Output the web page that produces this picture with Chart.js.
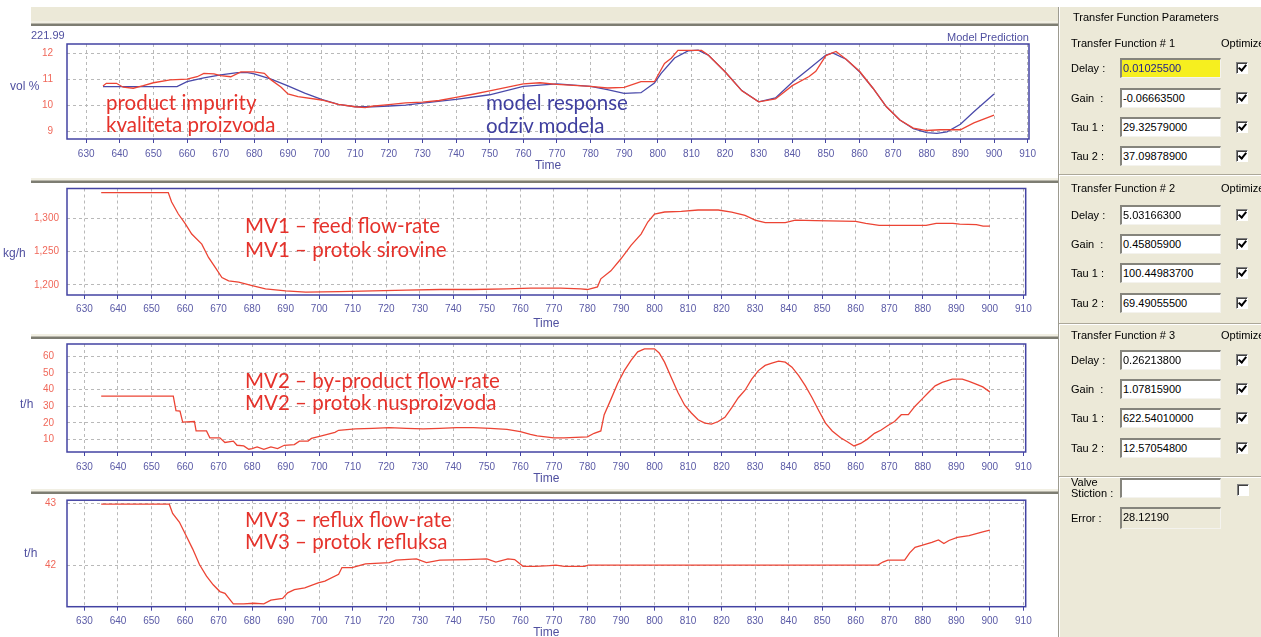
<!DOCTYPE html>
<html>
<head>
<meta charset="utf-8">
<script src="https://cdn.jsdelivr.net/npm/chart.js@4.4.1/dist/chart.umd.min.js"></script>
<style>
html, body { margin: 0; padding: 0; background: #fff; }
body { width: 1261px; height: 637px; overflow: hidden; position: relative; font-family: "Liberation Sans", Arial, sans-serif; }
canvas { position: absolute; left: 0; }
.strip { position: absolute; left: 31px; width: 1027px; background: #ece9d8; }
.sep { position: absolute; left: 31px; width: 1027px; height: 2px; background: #7d7d72; border-top: 1px solid #b8b6aa; box-shadow: 0 -2px 0 #f1efe3; }
.lbl { position: absolute; font-size: 12px; line-height: 14px; color: #5050a0; white-space: nowrap; }
.small { font-size: 11px; }
.note { position: absolute; font-family: Lato, "Open Sans", sans-serif; font-size: 20.5px; line-height: 22px; white-space: nowrap; }
.red { color: #e5322b; }
.blue { color: #3f3f9f; }
#panel { position: absolute; left: 1058px; top: 7px; width: 203px; height: 630px; background: #ece9d8; border-left: 1px solid #9d9b90; box-shadow: inset 1px 0 0 #ffffff; overflow: hidden; }
.pt { position: absolute; font-size: 11px; line-height: 14px; color: #000; white-space: pre; }
.inp { position: absolute; box-sizing: border-box; width: 101px; height: 20px; background: #fff; border-top: 2px solid #85847c; border-left: 2px solid #85847c; border-bottom: 1px solid #f4f3ee; border-right: 1px solid #f4f3ee; font-size: 11px; line-height: 16px; padding-left: 1px; color: #000; white-space: nowrap; }
.chk { position: absolute; box-sizing: border-box; width: 12px; height: 12px; background: #fff; border-top: 1px solid #808080; border-left: 1px solid #808080; border-bottom: 1px solid #fff; border-right: 1px solid #fff; box-shadow: inset 1px 1px 0 #404040; }
.chk.on::after { content: ""; position: absolute; left: 3px; top: 0px; width: 3px; height: 6px; border-right: 2px solid #000; border-bottom: 2px solid #000; transform: rotate(40deg); }
.psep { position: absolute; left: 0; width: 203px; height: 1px; background: #aca899; border-bottom: 1px solid #fff; }
</style>
</head>
<body>
<div class="strip" style="top:7px;height:16px;"></div>
<div class="sep" style="top:23px;"></div>
<div class="sep" style="top:180px;"></div>
<div class="sep" style="top:336px;"></div>
<div class="sep" style="top:491px;"></div>

<canvas id="c1" width="1058" height="140" style="top:38px"></canvas>
<canvas id="c2" width="1058" height="153" style="top:182px"></canvas>
<canvas id="c3" width="1058" height="153" style="top:338px"></canvas>
<canvas id="c4" width="1058" height="152" style="top:494px"></canvas>

<div class="lbl small" style="left:31px;top:28px;">221.99</div>
<div class="lbl small" style="left:947px;top:30px;">Model Prediction</div>
<div class="lbl" style="left:10px;top:79px;">vol %</div>
<div class="lbl" style="left:3px;top:246px;">kg/h</div>
<div class="lbl" style="left:20px;top:397px;">t/h</div>
<div class="lbl" style="left:24px;top:546px;">t/h</div>

<div class="note red" style="left:106px;top:91px;">product impurity</div>
<div class="note red" style="left:106px;top:113px;">kvaliteta proizvoda</div>
<div class="note blue" style="left:486px;top:91px;">model response</div>
<div class="note blue" style="left:486px;top:114px;">odziv modela</div>
<div class="note red" style="left:245px;top:214px;">MV1 – feed flow-rate</div>
<div class="note red" style="left:245px;top:238px;">MV1 – protok sirovine</div>
<div class="note red" style="left:245px;top:369px;">MV2 – by-product flow-rate</div>
<div class="note red" style="left:245px;top:391px;">MV2 – protok nusproizvoda</div>
<div class="note red" style="left:245px;top:508px;">MV3 – reflux flow-rate</div>
<div class="note red" style="left:245px;top:530px;">MV3 – protok refluksa</div>

<div id="panel"></div>

<script>
const timeTicks = [630, 640, 650, 660, 670, 680, 690, 700, 710, 720, 730, 740, 750, 760, 770, 780, 790, 800, 810, 820, 830, 840, 850, 860, 870, 880, 890, 900, 910];

// product impurity (measured) and model response, vol %
const impurityTime = [635, 636, 639, 641, 644, 647, 650, 655, 660, 663, 665, 668, 670, 673, 676, 680, 683, 685, 688, 690, 693, 700, 705, 710, 713, 715, 720, 725, 730, 735, 740, 745, 750, 755, 760, 765, 770, 775, 780, 785, 790, 795, 799, 802, 804, 806, 813, 815, 820, 825, 830, 835, 840, 845, 847, 850, 853, 856, 860, 864, 868, 872, 876, 880, 884, 888, 890, 894, 900];
const impurityMeasured = [10.74, 10.84, 10.84, 10.69, 10.65, 10.75, 10.86, 10.97, 11.0, 11.09, 11.22, 11.2, 11.13, 11.09, 11.28, 11.28, 11.22, 10.97, 10.69, 10.43, 10.33, 10.2, 10.03, 9.94, 9.91, 9.96, 10.02, 10.09, 10.12, 10.18, 10.3, 10.42, 10.55, 10.68, 10.82, 10.86, 10.8, 10.76, 10.72, 10.66, 10.68, 10.9, 10.9, 11.6, 11.8, 12.1, 12.1, 11.92, 11.28, 10.55, 10.13, 10.24, 10.75, 11.1, 11.3, 11.9, 12.06, 11.76, 11.3, 10.65, 9.94, 9.43, 9.12, 9.03, 9.06, 9.06, 9.06, 9.32, 9.62];
const modelTime = [635, 657, 660, 665, 670, 675, 678, 680, 685, 690, 695, 700, 705, 710, 715, 720, 725, 730, 740, 750, 760, 770, 780, 785, 790, 795, 799, 801, 805, 809, 812, 815, 820, 825, 830, 835, 840, 845, 850, 852, 856, 860, 864, 868, 872, 876, 880, 883, 886, 890, 894, 900];
const modelResponse = [10.71, 10.71, 10.9, 11.05, 11.16, 11.25, 11.25, 11.2, 11.0, 10.74, 10.46, 10.22, 10.03, 9.94, 9.94, 9.97, 10.0, 10.08, 10.22, 10.4, 10.72, 10.82, 10.72, 10.6, 10.45, 10.48, 10.85, 11.22, 11.81, 12.08, 12.11, 11.92, 11.28, 10.56, 10.13, 10.28, 10.88, 11.4, 11.92, 12.0, 11.76, 11.28, 10.65, 9.94, 9.43, 9.1, 8.95, 8.92, 8.98, 9.27, 9.75, 10.43];
const impurityTicks = [9, 10, 11, 12];

// MV1 feed flow-rate, kg/h
const feedTime = [635, 655, 656, 658, 660, 662, 665, 667, 669, 671, 673, 676, 680, 684, 690, 696, 706, 716, 726, 736, 746, 756, 763, 772, 778, 780, 783, 784, 787, 790, 793, 796, 798, 800, 803, 808, 813, 819, 823, 827, 830, 833, 839, 842, 848, 860, 863, 867, 881, 884, 889, 891, 896, 898, 900];
const feedRate = [1338, 1338, 1324, 1306, 1292, 1276, 1261, 1241, 1226, 1211, 1206, 1204, 1199, 1194, 1191, 1189, 1190, 1191, 1192, 1193, 1193, 1194, 1195, 1195, 1194, 1193, 1197, 1209, 1221, 1239, 1259, 1276, 1294, 1306, 1309, 1310, 1312, 1312, 1309, 1304, 1297, 1293, 1293, 1297, 1296, 1295, 1292, 1289, 1289, 1292, 1292, 1291, 1290, 1288, 1288];
const feedTicks = [1200, 1250, 1300];

// MV2 by-product flow-rate, t/h
const byproductTime = [635, 656.5, 657.3, 658.5, 659.3, 662.8, 663.3, 666.4, 667.4, 670.4, 671.9, 674.4, 675.5, 677.5, 679, 680, 681.5, 683.5, 685.6, 687.6, 689.6, 692.6, 694.1, 696.7, 697.7, 700.7, 704.7, 705.8, 710.8, 715.9, 720.9, 726, 731, 736, 741, 746, 751, 756, 760, 763, 765, 770, 773, 780, 782, 784, 785, 787, 789, 791, 793, 795, 797, 800, 801.4, 803, 805, 807, 809, 811, 813, 815, 817, 819, 821, 823, 825, 827, 829, 831, 833, 835, 837, 839, 841, 843, 845, 847, 849, 851, 853, 855.5, 857.5, 859.5, 861.5, 863.5, 865.6, 867.6, 869.6, 871.6, 873.6, 875.7, 877.7, 879.7, 881.7, 883.7, 885.8, 888.8, 891.8, 893.8, 895.9, 897.9, 900];
const byproductRate = [36.1, 36.1, 27.3, 27, 20.4, 20.8, 15.1, 15.1, 11, 11, 8.2, 9, 6.5, 6.1, 4.1, 4.5, 5.5, 4.1, 5.5, 4.5, 6.5, 6.9, 9, 9, 10.6, 12.2, 14.3, 15.5, 16.3, 16.7, 17.1, 16.7, 16.3, 16.7, 17.1, 17.1, 16.7, 16.1, 14.7, 13.1, 12.2, 11, 11, 11.6, 13.7, 15.1, 24.9, 34.1, 43.7, 51.4, 57.6, 62.7, 64.5, 64.5, 62, 56.5, 47.3, 38.2, 30.6, 25.9, 21.8, 19.8, 19.2, 20.8, 23.3, 29, 35.1, 39.6, 46.3, 51.4, 54.5, 55.9, 57.1, 56.5, 53.5, 48.4, 42.2, 35.1, 27.3, 19.8, 15.1, 11, 8.6, 6.1, 7.6, 10.2, 13.7, 15.7, 18.4, 20.8, 24.9, 24.9, 30, 34.1, 38.2, 42.2, 44.3, 46.3, 46.3, 44.9, 43.3, 41.6, 38.6];
const byproductTicks = [10, 20, 30, 40, 50, 60];

// MV3 reflux flow-rate, t/h
const refluxTime = [635, 655.3, 656.3, 658.3, 660.3, 662.3, 664.3, 666.4, 668.4, 670.4, 671.9, 674.4, 677.5, 680.5, 683.5, 685.6, 689.1, 690.6, 692.6, 695.7, 699.7, 701.7, 705.8, 706.8, 709.8, 713.8, 720.9, 722.9, 729, 732, 736, 744, 750, 752.7, 756.3, 758.3, 760.8, 764.5, 768.6, 770.6, 773.1, 779.2, 780.2, 866.6, 868.1, 869.6, 874.6, 876.1, 877.7, 879.7, 882.7, 884.7, 886.3, 887.8, 890.3, 893.8, 897.9, 900];
const refluxRate = [42.99, 42.99, 42.84, 42.7, 42.48, 42.26, 42.01, 41.82, 41.68, 41.57, 41.54, 41.37, 41.37, 41.38, 41.37, 41.43, 41.46, 41.55, 41.6, 41.63, 41.71, 41.74, 41.85, 41.96, 41.96, 42.02, 42.04, 42.08, 42.1, 42.04, 42.08, 42.09, 42.1, 42.05, 42.1, 42.09, 41.98, 41.98, 41.99, 42.0, 41.98, 41.98, 42.0, 42.0, 42.05, 42.08, 42.08, 42.2, 42.29, 42.32, 42.37, 42.41, 42.35, 42.4, 42.45, 42.48, 42.54, 42.57];
const refluxTicks = [42, 43];

// transfer function parameters (right panel)
const paramLabels = ['Delay :', 'Gain  :', 'Tau 1 :', 'Tau 2 :'];
const tf1Values = ['0.01025500', '-0.06663500', '29.32579000', '37.09878900'];
const tf2Values = ['5.03166300', '0.45805900', '100.44983700', '69.49055500'];
const tf3Values = ['0.26213800', '1.07815900', '622.54010000', '12.57054800'];
const errorValue = '28.12190';

Chart.defaults.font.family = '"Liberation Sans", Arial, sans-serif';

const RED = '#ec4434';
const BLUE = '#4a4aaa';

const frame = {
    id: 'frame',
    afterDraw(chart) {
        const { ctx, chartArea: a } = chart;
        ctx.save();
        ctx.strokeStyle = '#4343a3';
        ctx.lineWidth = 1.5;
        ctx.strokeRect(a.left, a.top, a.right - a.left, a.bottom - a.top);
        ctx.restore();
    }
};

const pts = (xs, ys) => xs.map((x, i) => ({ x: x, y: ys[i] }));

function lineChart(id, datasets, c) {
    return new Chart(document.getElementById(id), {
        type: 'line',
        data: { datasets: datasets },
        options: {
            responsive: false,
            animation: false,
            devicePixelRatio: 1,
            layout: { padding: { left: 0, right: c.padRight, top: c.padTop, bottom: 0 } },
            plugins: { legend: { display: false }, tooltip: { enabled: false } },
            elements: { point: { radius: 0 }, line: { tension: 0, borderWidth: 1.3 } },
            scales: {
                x: {
                    type: 'linear',
                    min: c.xMin,
                    max: c.xMax,
                    afterBuildTicks: s => { s.ticks = timeTicks.map(v => ({ value: v })); },
                    afterFit: s => { s.height = c.xHeight; },
                    ticks: { color: '#5a5aa6', font: { size: 10 }, padding: c.xPad, maxRotation: 0, autoSkip: false, callback: v => String(v) },
                    grid: { color: '#b9b9b9', lineWidth: 1, drawTicks: true, tickLength: 4, tickColor: '#4545a2', tickBorderDash: [] },
                    border: { display: false, dash: [3, 3] },
                    title: { display: true, text: 'Time', color: '#5050a0', font: { size: 12 }, padding: { top: 0, bottom: c.timePad } }
                },
                y: {
                    min: c.yMin,
                    max: c.yMax,
                    afterBuildTicks: s => { s.ticks = c.yTicks.map(v => ({ value: v })); },
                    afterFit: s => { s.width = 67; },
                    ticks: { color: '#f0685a', font: { size: 10 }, padding: 0, callback: v => v.toLocaleString('en-US') },
                    grid: { color: '#b9b9b9', drawTicks: true, tickLength: c.yGap, tickColor: 'rgba(0,0,0,0)' },
                    border: { display: false, dash: [3, 3] }
                }
            }
        },
        plugins: [frame]
    });
}

lineChart('c1', [
    { data: pts(impurityTime, impurityMeasured), borderColor: RED },
    { data: pts(modelTime, modelResponse), borderColor: BLUE }
], { xMin: 624.3, xMax: 910.4, yMin: 8.705, yMax: 12.345, yTicks: impurityTicks, padTop: 6, padRight: 29, xHeight: 39, xPad: 5, timePad: 5, yGap: 14 });

lineChart('c2', [
    { data: pts(feedTime, feedRate), borderColor: RED }
], { xMin: 624.8, xMax: 910.7, yMin: 1184.8, yMax: 1344.2, yTicks: feedTicks, padTop: 6.5, padRight: 32.3, xHeight: 40, xPad: 4, timePad: 4, yGap: 8 });

lineChart('c3', [
    { data: pts(byproductTime, byproductRate), borderColor: RED }
], { xMin: 624.8, xMax: 910.7, yMin: 2.45, yMax: 67.4, yTicks: byproductTicks, padTop: 6, padRight: 32.3, xHeight: 39, xPad: 5, timePad: 5, yGap: 13 });

lineChart('c4', [
    { data: pts(refluxTime, refluxRate), borderColor: RED }
], { xMin: 624.8, xMax: 910.7, yMin: 41.324, yMax: 43.055, yTicks: refluxTicks, padTop: 6.2, padRight: 32.3, xHeight: 39.3, xPad: 5, timePad: 6, yGap: 11 });

// right panel
const panel = document.getElementById('panel');
const PX = 1058, PY = 7;
function add(cls, x, y, text, extra) {
    const d = document.createElement('div');
    d.className = cls;
    d.style.left = (x - PX) + 'px';
    d.style.top = (y - PY) + 'px';
    if (text !== undefined) d.textContent = text;
    if (extra) Object.assign(d.style, extra);
    panel.appendChild(d);
    return d;
}
add('pt', 1072, 10, 'Transfer Function Parameters');

const groups = [
    { title: 'Transfer Function # 1', y: 43, rows: [68, 98, 127, 156], values: tf1Values },
    { title: 'Transfer Function # 2', y: 188, rows: [215, 244, 273, 303], values: tf2Values },
    { title: 'Transfer Function # 3', y: 335, rows: [360, 389, 418, 448], values: tf3Values }
];
groups.forEach((g, gi) => {
    add('pt', 1070, g.y - 7, g.title);
    add('pt', 1220, g.y - 7, 'Optimize');
    g.rows.forEach((ry, ri) => {
        add('pt', 1070, ry - 7, paramLabels[ri]);
        const box = add('inp', 1119, ry - 10, g.values[ri]);
        if (gi === 0 && ri === 0) { box.style.background = '#f6ef1f'; box.style.color = '#22228a'; }
        add('chk on', 1235, ry - 6);
    });
});
[174, 323, 476].forEach(y => add('psep', PX, y));

add('pt', 1070, 475, 'Valve');
add('pt', 1070, 486, 'Stiction :');
add('inp', 1119, 478, '');
add('chk', 1236, 484);
add('pt', 1070, 511, 'Error :');
add('inp', 1119, 507, errorValue, { background: '#ece9d8', height: '22px' });
</script>
</body>
</html>
